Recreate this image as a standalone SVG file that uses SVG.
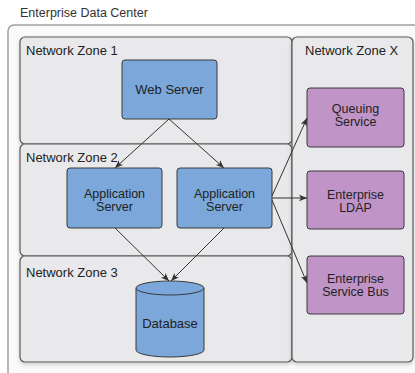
<svg xmlns="http://www.w3.org/2000/svg" width="415" height="373" viewBox="0 0 415 373">
  <style>
    text { font-family: "Liberation Sans", Arial, sans-serif; font-size: 13px; fill: #222; }
    .title { font-size: 12.5px; fill: #333; }
    .zone { fill: #e9e9eb; stroke: #5a5a5a; stroke-width: 1.2; filter: url(#shadow); }
    .outer { fill: #fafafa; stroke: #a0a0a0; stroke-width: 1.5; }
    .blue { fill: #7ba7da; stroke: #3a3a3a; stroke-width: 1; }
    .purple { fill: #c194c7; stroke: #3a3a3a; stroke-width: 1; }
    .lbl { text-anchor: middle; }
    .two { font-size: 12.5px; }
    .conn line { stroke: #333; stroke-width: 1; marker-end: url(#arrow); }
  </style>
  <defs>
    <marker id="arrow" viewBox="0 0 10 10" refX="10" refY="5" markerWidth="8" markerHeight="8" orient="auto" markerUnits="userSpaceOnUse">
      <path d="M0,1 L10,5 L0,9 L2.5,5 Z" fill="#333"/>
    </marker>
    <filter id="shadow" x="-5%" y="-5%" width="110%" height="115%">
      <feDropShadow dx="0" dy="2" stdDeviation="2" flood-color="#000" flood-opacity="0.18"/>
    </filter>
  </defs>

  <!-- data center frame -->
  <g id="data-center">
    <rect class="outer" x="8" y="25" width="420" height="360" rx="6"/>
    <text class="title" x="20" y="17">Enterprise Data Center</text>
  </g>

  <!-- network zones -->
  <g id="zone-1">
    <rect class="zone" x="20" y="37" width="272" height="107" rx="5"/>
    <text x="26" y="55">Network Zone 1</text>
  </g>
  <g id="zone-2">
    <rect class="zone" x="20" y="144" width="272" height="112" rx="5"/>
    <text x="26" y="162">Network Zone 2</text>
  </g>
  <g id="zone-3">
    <rect class="zone" x="20" y="256" width="272" height="106" rx="5"/>
    <text x="26" y="277">Network Zone 3</text>
  </g>
  <g id="zone-x">
    <rect class="zone" x="292" y="37" width="121" height="325" rx="5"/>
    <text x="305" y="55">Network Zone X</text>
  </g>

  <!-- servers -->
  <g id="web-server">
    <rect class="blue" x="122" y="60" width="95" height="59" rx="3"/>
    <text class="lbl" x="169.5" y="94">Web Server</text>
  </g>
  <g id="app-server-1">
    <rect class="blue" x="67" y="168" width="95" height="60" rx="3"/>
    <text class="lbl two" x="114.5" y="198">Application</text>
    <text class="lbl two" x="114.5" y="211">Server</text>
  </g>
  <g id="app-server-2">
    <rect class="blue" x="177" y="168" width="95" height="60" rx="3"/>
    <text class="lbl two" x="224.5" y="198">Application</text>
    <text class="lbl two" x="224.5" y="211">Server</text>
  </g>
  <g id="database">
    <path class="blue" d="M136,288 L136,350 A34,7 0 0 0 204,350 L204,288"/>
    <ellipse class="blue" cx="170" cy="288" rx="34" ry="7"/>
    <text class="lbl" x="170" y="328">Database</text>
  </g>

  <!-- shared services -->
  <g id="queuing-service">
    <rect class="purple" x="307" y="88" width="97" height="59" rx="3"/>
    <text class="lbl two" x="355.5" y="113">Queuing</text>
    <text class="lbl two" x="355.5" y="125.5">Service</text>
  </g>
  <g id="enterprise-ldap">
    <rect class="purple" x="307" y="171" width="97" height="58" rx="3"/>
    <text class="lbl two" x="355.5" y="199">Enterprise</text>
    <text class="lbl two" x="355.5" y="212">LDAP</text>
  </g>
  <g id="enterprise-service-bus">
    <rect class="purple" x="307" y="256" width="97" height="58" rx="3"/>
    <text class="lbl two" x="355.5" y="283">Enterprise</text>
    <text class="lbl two" x="355.5" y="296">Service Bus</text>
  </g>

  <!-- connectors -->
  <g id="connectors" class="conn">
    <line x1="169" y1="119" x2="115" y2="168"/>
    <line x1="169" y1="119" x2="224" y2="168"/>
    <line x1="115" y1="228" x2="169" y2="281"/>
    <line x1="224" y1="228" x2="171" y2="281"/>
    <line x1="272" y1="196" x2="307" y2="118"/>
    <line x1="272" y1="198" x2="307" y2="198"/>
    <line x1="272" y1="200" x2="307" y2="283"/>
  </g>
</svg>
